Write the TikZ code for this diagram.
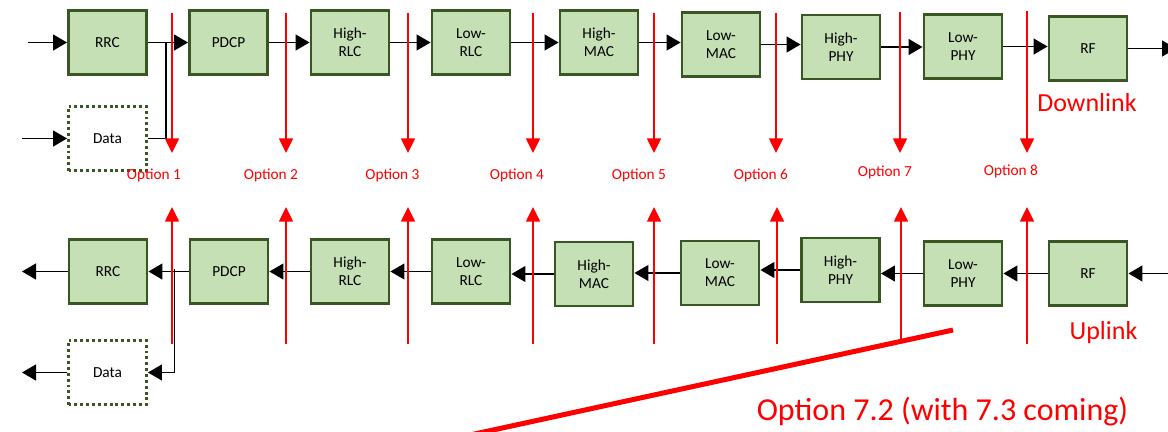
\documentclass[tikz,border=0pt]{standalone}
\usepackage{fontspec}
\setmainfont{Carlito}
\usetikzlibrary{arrows.meta}
\definecolor{boxfill}{HTML}{C5E0B4}
\definecolor{boxline}{HTML}{385723}

\begin{document}
\begin{tikzpicture}[x=0.75pt,y=-0.75pt,
		blk/.style={draw=boxline,fill=boxfill,line width=2.2pt,minimum width=58.5pt,minimum height=48pt,inner sep=0pt,align=center,font=\fontsize{11.5}{13.5}\selectfont},
		dat/.style={blk,fill=none,dash pattern=on 2.2pt off 2.2pt},
		flow/.style={line width=1pt,-{Triangle[length=10.5pt,width=12pt]}},
		cut/.style={red,line width=1.1pt,-{Triangle[length=11pt,width=10.5pt]}},
		opt/.style={red,inner sep=0pt,font=\fontsize{11.5}{13.5}\selectfont}]
	\useasboundingbox (0,0) rectangle (1168,432);

	\node[blk] (d1) at (107.5,42.5) {RRC};
	\node[blk] (d2) at (228.5,42.5) {PDCP};
	\node[blk] (d3) at (350,42.5) {High-\\RLC};
	\node[blk] (d4) at (471,42.5) {Low-\\RLC};
	\node[blk] (d5) at (599,42.5) {High-\\MAC};
	\node[blk] (d6) at (721,44.5) {Low-\\MAC};
	\node[blk] (d7) at (841,47) {High-\\PHY};
	\node[blk] (d8) at (963,46.5) {Low-\\PHY};
	\node[blk] (d9) at (1088,48.5) {RF};
	\node[dat] (dd) at (107.5,138.5) {Data};

	\node[blk] (u1) at (108,271.5) {RRC};
	\node[blk] (u2) at (229,271.5) {PDCP};
	\node[blk] (u3) at (350,271.5) {High-\\RLC};
	\node[blk] (u4) at (471,271.5) {Low-\\RLC};
	\node[blk] (u5) at (594,274) {High-\\MAC};
	\node[blk] (u6) at (720,273) {Low-\\MAC};
	\node[blk] (u7) at (840.5,270) {High-\\PHY};
	\node[blk] (u8) at (963,273.5) {Low-\\PHY};
	\node[blk] (u9) at (1088,273.5) {RF};
	\node[dat] (ud) at (107.5,372.5) {Data};

	\coordinate (di) at (28,42.5);
	\coordinate (ddi) at (22,138.5);
	\coordinate (do) at (1176,48.5);
	\draw[flow] (di) -- (d1);
	\draw[flow] (ddi) -- (dd);
	\draw[flow] (d1) -- (d2);
	\draw[line width=1pt] (dd.east) -| ([xshift=13.5pt]d1.east);
	\draw[flow] (d2.east) -- (d2.east -| d3.west);
	\draw[flow] (d3.east) -- (d3.east -| d4.west);
	\draw[flow] (d4.east) -- (d4.east -| d5.west);
	\draw[flow] (d5.east) -- (d5.east -| d6.west);
	\draw[flow] (d6.east) -- (d6.east -| d7.west);
	\draw[flow] (d7.east) -- (d7.east -| d8.west);
	\draw[flow] (d8.east) -- (d8.east -| d9.west);
	\draw[flow] (d9) -- (do);

	\coordinate (ui) at (1176,273.5);
	\coordinate (uo) at (22,271.5);
	\coordinate (udo) at (22,372.5);
	\draw[flow] (ui) -- (u9);
	\draw[flow] (u9.west) -- (u9.west -| u8.east);
	\draw[flow] (u8.west) -- (u8.west -| u7.east);
	\draw[flow] (u7.west) -- (u7.west -| u6.east);
	\draw[flow] (u6.west) -- (u6.west -| u5.east);
	\draw[flow] (u5.west) -- (u5.west -| u4.east);
	\draw[flow] (u4.west) -- (u4.west -| u3.east);
	\draw[flow] (u3.west) -- (u3.west -| u2.east);
	\draw[flow] (u2) -- (u1);
	\draw[flow] ([xshift=19.5pt,yshift=2pt]u1.east) |- (ud.east);
	\draw[flow] (u1) -- (uo);
	\draw[flow] (ud) -- (udo);

	\draw[cut] (172,13) -- (172,153);
	\draw[cut] (286,13) -- (286,153);
	\draw[cut] (408,13) -- (408,153);
	\draw[cut] (533,13) -- (533,153);
	\draw[cut] (654,13) -- (654,153);
	\draw[cut] (776,13) -- (776,153);
	\draw[cut] (900,12) -- (900,153);
	\draw[cut] (1027,11) -- (1027,153);

	\node[opt] (o1) at (154,175) {Option 1};
	\node[opt] (o2) at (271,175) {Option 2};
	\node[opt] (o3) at (392.5,175) {Option 3};
	\node[opt] (o4) at (517,175) {Option 4};
	\node[opt] (o5) at (639,175) {Option 5};
	\node[opt] (o6) at (761,175) {Option 6};
	\node[opt] (o7) at (885,172) {Option 7};
	\node[opt] (o8) at (1011,171) {Option 8};

	\draw[cut] (172,344) -- (172,207);
	\draw[cut] (286,344) -- (286,207);
	\draw[cut] (408,344) -- (408,207);
	\draw[cut] (533,344) -- (533,207);
	\draw[cut] (654,344) -- (654,207);
	\draw[cut] (777,344) -- (777,207);
	\draw[cut] (901,340) -- (901,207);
	\draw[cut] (1027,344) -- (1027,207);

	\node[red,font=\fontsize{19.5}{23}\selectfont] (dl) at (1087,103) {Downlink};
	\node[red,font=\fontsize{19.5}{23}\selectfont] (ul) at (1103.5,333) {Uplink};
	\draw[red,line width=3.75pt] (953,330) -- (470,435);
	\node[red,font=\fontsize{24}{28}\selectfont] (o72) at (942.5,412) {Option 7.2 (with 7.3 coming)};
\end{tikzpicture}
\end{document}
